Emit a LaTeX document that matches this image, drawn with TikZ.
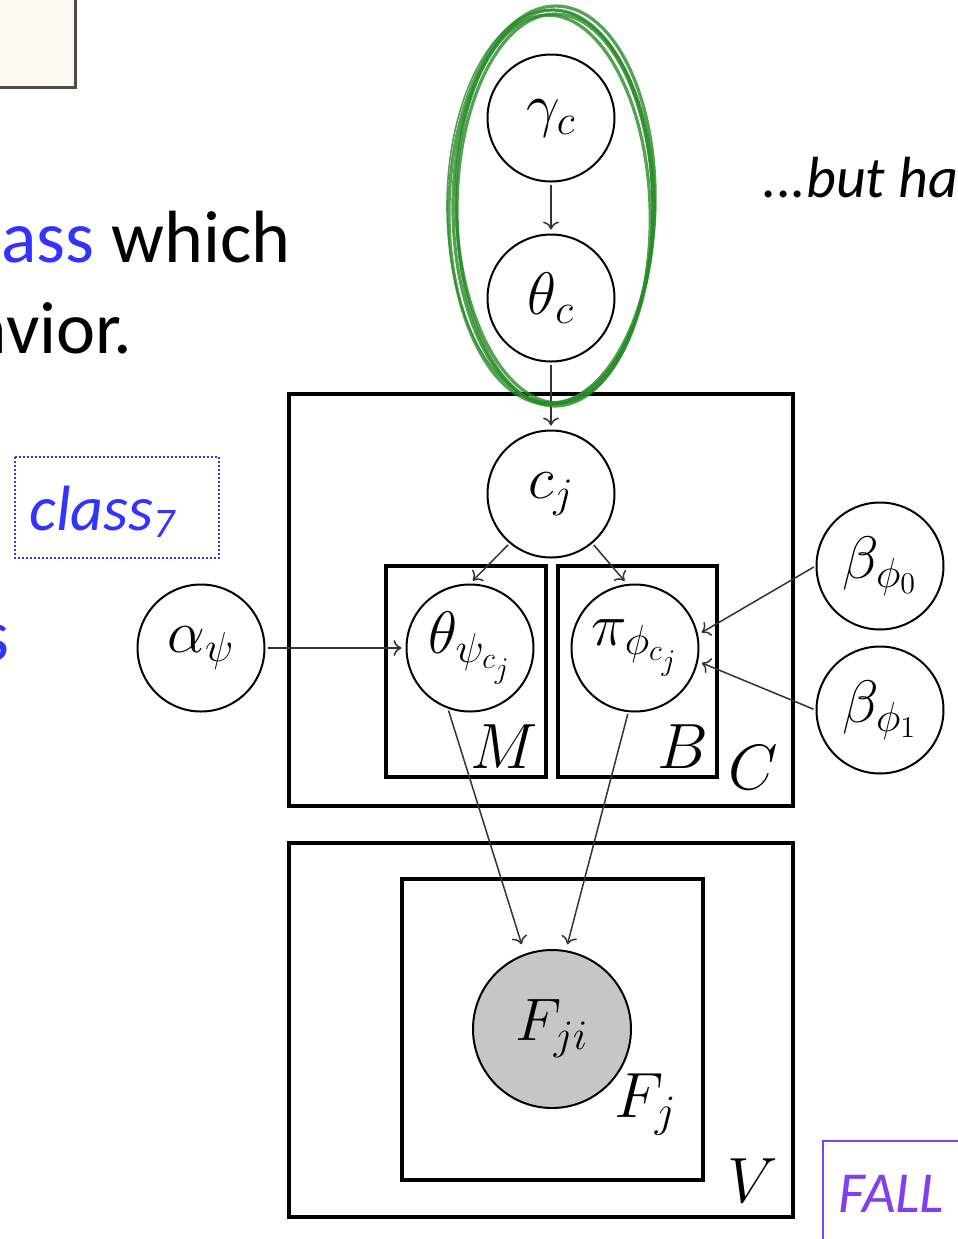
\RequirePackage{fix-cm}
\documentclass[tikz,border=0pt]{standalone}
\usepackage{fontspec}
\newfontfamily\slidefont{Carlito}
\usetikzlibrary{arrows.meta,positioning}
\definecolor{slideblue}{RGB}{51,51,255}
\definecolor{fallpurple}{RGB}{128,64,240}
\definecolor{markgreen}{RGB}{40,140,40}
\definecolor{cream}{RGB}{253,248,242}

\begin{document}
\begin{tikzpicture}[
    x=0.5pt, y=-0.5pt,
    latent/.style={circle, draw, line width=1pt, fill=white, minimum size=63.5pt, inner sep=0pt, font=\fontsize{30}{36}\selectfont},
    obs/.style={latent, fill=gray!45, minimum size=79pt},
    plate/.style={draw, line width=2pt},
    platelabel/.style={inner sep=0pt, font=\fontsize{32}{38}\selectfont},
    arrow/.style={-{To[length=4pt,width=8pt]}, line width=0.75pt, black!80, shorten <=1pt, shorten >=2pt},
    slide/.style={inner sep=0pt, font=\slidefont\fontsize{37}{44}\selectfont},
    remark/.style={inner sep=0pt, font=\slidefont\itshape\fontsize{29}{35}\selectfont},
    sketch/.style={markgreen, line width=1.6pt, opacity=0.8}
]
    \useasboundingbox (0,0) rectangle (958,1239);
    \clip (0,0) rectangle (958,1239);
    \fill[white] (0,0) rectangle (958,1239);

    \draw[fill=cream, draw=black!70, line width=1.5pt] (-10,-10) rectangle (75,87);
    \node[slide, anchor=base west] (line1) at (1,262) {\textcolor{slideblue}{ass} which};
    \node[slide, anchor=base east] (line2) at (133,353) {avior.};
    \draw[slideblue, line width=0.8pt, dash pattern=on 0.8pt off 1.2pt] (15,457) rectangle (219,558);
    \node[slide, anchor=base west, text=slideblue, font=\slidefont\itshape\fontsize{32}{38}\selectfont] (classlbl) at (29,530) {class\raisebox{-3.5pt}{\fontsize{21}{21}\selectfont 7}};
    \node[slide, anchor=base east, text=slideblue] (line3) at (10,660) {s};
    \node[remark, anchor=base west] (butha) at (762,197) {...but ha};
    \draw[fallpurple, line width=1pt] (823,1250) -- (823,1141) -- (970,1141);
    \node[remark, anchor=base west, text=fallpurple] (fall) at (838,1212) {FALL};

    \draw[plate] (289,394) rectangle (793,806);
    \draw[plate] (386,566) rectangle (546,777);
    \draw[plate] (558,566) rectangle (717,777);
    \draw[plate] (289,843) rectangle (793,1217);
    \draw[plate] (402,879) rectangle (703,1180);
    \node[platelabel, anchor=base east] (mlbl) at (538,768) {$M$};
    \node[platelabel, anchor=base east] (blbl) at (709,768) {$B$};
    \node[platelabel, anchor=base east] (clbl) at (778,789) {$C$};
    \node[platelabel, anchor=base east] (vlbl) at (778,1202) {$V$};
    \node[platelabel, anchor=base west] (fjlbl) at (614,1117) {$F_j$};

    \node[latent] (gamma) at (551,118) {$\gamma_c$};
    \node[latent, below=25.5pt of gamma] (thetac) {$\theta_c$};
    \node[latent, below=33.5pt of thetac] (cj) {$c_j$};
    \node[latent] (thetapsi) at (470,648) {$\theta_{\psi_{c_j}}$};
    \node[latent, right=18pt of thetapsi] (pi) {$\pi_{\phi_{c_j}}$};
    \node[latent, left=70pt of thetapsi] (alpha) {$\alpha_\psi$};
    \node[latent] (beta0) at (880,566) {$\beta_{\phi_0}$};
    \node[latent, below=7.5pt of beta0] (beta1) {$\beta_{\phi_1}$};
    \node[obs] (fji) at (552,1029) {$F_{ji}$};

    \draw[arrow] (gamma) -- (thetac);
    \draw[arrow] (thetac) -- (cj);
    \draw[arrow] (cj.230) -- (thetapsi.north);
    \draw[arrow] (cj.310) -- (pi.97);
    \draw[arrow] (alpha) -- (thetapsi);
    \draw[arrow] (beta0.west) -- (pi.12);
    \draw[arrow] (beta1.west) -- (pi.-12);
    \draw[arrow, shorten >=5pt] (thetapsi.250) -- (fji.110);
    \draw[arrow, shorten >=3pt] (pi.264) -- (fji.80);

    \draw[sketch] (553,207) ellipse [x radius=50pt, y radius=98.5pt];
    \draw[sketch, rotate around={2:(553,207)}] (553,209) ellipse [x radius=48.5pt, y radius=97pt];
    \draw[sketch, rotate around={-1.5:(553,207)}] (552,205) ellipse [x radius=51.5pt, y radius=99.5pt];
    \draw[sketch] (555,210) ellipse [x radius=49pt, y radius=98pt];
    \draw[sketch, line width=0.8pt] (551,206) ellipse [x radius=52pt, y radius=98pt];
\end{tikzpicture}
\end{document}
